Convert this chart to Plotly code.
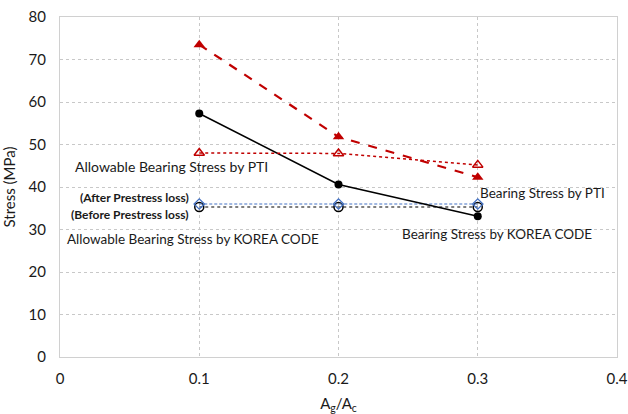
import plotly.graph_objects as go

# Area ratio Ag/Ac
ratio = [0.1, 0.2, 0.3]

# Stress values (MPa)
bearing_pti = [73.5, 51.8, 42.3]
allowable_pti = [48.0, 47.9, 45.2]
bearing_korea = [57.3, 40.6, 33.1]
allowable_korea_after = [36.0, 36.0, 36.0]
allowable_korea_before = [35.3, 35.3, 35.3]

x_ticks = [0, 0.1, 0.2, 0.3, 0.4]
y_ticks = [0, 10, 20, 30, 40, 50, 60, 70, 80]

RED = "#c00000"
BLUE = "#4472c4"
TXT = "#1a1a1a"
FONT = "Lato, Open Sans, sans-serif"

fig = go.Figure()

fig.add_trace(go.Scatter(
    x=ratio, y=allowable_korea_before, mode="lines+markers",
    line=dict(color="black", width=1.2, dash="dot"),
    marker=dict(symbol="circle-open", size=9, color="black", line=dict(width=1.5)),
    name="Allowable KOREA (before)"))
fig.add_trace(go.Scatter(
    x=ratio, y=allowable_korea_after, mode="lines+markers",
    line=dict(color=BLUE, width=1.2, dash="3px,2px"),
    marker=dict(symbol="diamond-open", size=8, color=BLUE, line=dict(width=1.3)),
    name="Allowable KOREA (after)"))
fig.add_trace(go.Scatter(
    x=ratio, y=bearing_korea, mode="lines+markers",
    line=dict(color="black", width=1.5),
    marker=dict(symbol="circle", size=8, color="black"),
    name="Bearing KOREA"))
fig.add_trace(go.Scatter(
    x=ratio, y=allowable_pti, mode="lines+markers",
    line=dict(color=RED, width=1.5, dash="dot"),
    marker=dict(symbol="triangle-up-open", size=9, color=RED, line=dict(width=1.5)),
    name="Allowable PTI"))
fig.add_trace(go.Scatter(
    x=ratio, y=bearing_pti, mode="lines+markers",
    line=dict(color=RED, width=2.2, dash="dash"),
    marker=dict(symbol="triangle-up", size=10, color=RED),
    name="Bearing PTI"))

labels = [
    dict(x=0.1, y=44.9, text="Allowable Bearing Stress by PTI", xanchor="center", size=14, bold=False, xshift=-28),
    dict(x=0.1, y=37.5, text="(After Prestress loss)", xanchor="right", size=12, bold=True, xshift=-8),
    dict(x=0.1, y=33.5, text="(Before Prestress loss)", xanchor="right", size=12, bold=True, xshift=-8),
    dict(x=0.1, y=27.8, text="Allowable Bearing Stress by KOREA CODE", xanchor="center", size=13.5, bold=False, xshift=-6),
    dict(x=0.3, y=38.7, text="Bearing Stress by PTI", xanchor="left", size=13.5, bold=False, xshift=0),
    dict(x=0.3, y=28.9, text="Bearing Stress by KOREA CODE", xanchor="center", size=13.5, bold=False, xshift=19),
]
for a in labels:
    fig.add_annotation(
        x=a["x"], y=a["y"], text=f"<b>{a['text']}</b>" if a["bold"] else a["text"],
        showarrow=False, xanchor=a["xanchor"], yanchor="middle", xshift=a["xshift"],
        font=dict(family=FONT, size=a["size"], color=TXT))

axis_common = dict(
    showgrid=True, gridcolor="#c8c8c8", griddash="dot", gridwidth=1,
    showline=True, linecolor="#d0d0d0", linewidth=1, mirror=True,
    zeroline=False, ticks="", automargin=False,
    tickfont=dict(family=FONT, size=15, color=TXT),
)

fig.update_xaxes(range=[0, 0.4], tickvals=x_ticks, ticktext=[str(v) for v in x_ticks],
                 ticklabelstandoff=8,
                 title=dict(text="A<sub>g</sub>/A<sub>c</sub>", font=dict(family=FONT, size=15, color=TXT)),
                 **axis_common)
fig.update_yaxes(range=[0, 80], tickvals=y_ticks, ticklabelstandoff=10,
                 title=dict(text="Stress (MPa)", font=dict(family=FONT, size=15, color=TXT)),
                 **axis_common)

fig.update_layout(
    width=628, height=414, showlegend=False,
    margin=dict(l=60, r=11, t=17, b=57),
    plot_bgcolor="white", paper_bgcolor="white",
)

fig.write_html("out.html")
